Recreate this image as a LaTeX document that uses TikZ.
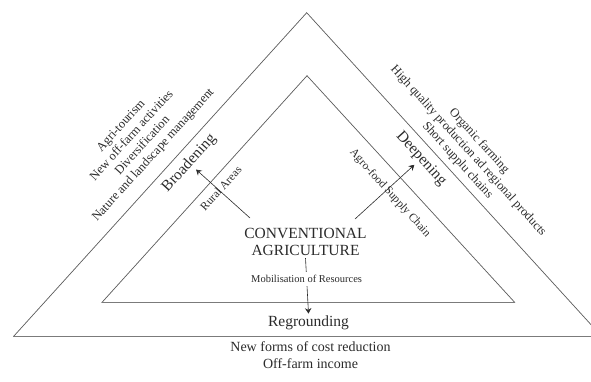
\documentclass[tikz,border=0pt]{standalone}
\usepackage{fontspec}
\setmainfont{Liberation Serif}
\usepackage{tikz}
\usetikzlibrary{arrows.meta}
\definecolor{inkgray}{HTML}{2B2B2B}
\definecolor{linegray}{HTML}{5A5A5A}

\tikzset{
  edgeline/.style={draw=linegray,line width=0.7pt,line join=miter},
  basestroke/.style={draw=linegray!80,line width=1.3pt},
  listtext/.style={text=inkgray,align=center,inner sep=1pt,
    font=\fontsize{12.5}{14.5}\selectfont},
  bigtext/.style={text=inkgray,align=center,inner sep=2pt,
    font=\fontsize{15.5}{17.4}\selectfont},
  smalltext/.style={text=inkgray,inner sep=1pt,
    font=\fontsize{11.5}{13}\selectfont},
  pusharrow/.style={draw=inkgray,line width=0.6pt,
    -{Stealth[length=5.5pt,width=6.5pt,inset=2pt]}}
}

\begin{document}
\begin{tikzpicture}[x=1pt,y=-1pt]
  \clip (0,0) rectangle (591,381);
  % outer and inner triangle
  \coordinate (OA) at (306.7,12.7);
  \coordinate (OL) at (13.3,336.7);
  \coordinate (OR) at (602,336.7);
  \coordinate (IA) at (307,75.7);
  \coordinate (IL) at (101.7,302.7);
  \coordinate (IR) at (515,302.7);
  \draw[edgeline] (OL) -- (OA) -- (OR);
  \draw[basestroke] (OL) -- (OR);
  \draw[edgeline] (IL) -- (IA) -- (IR);
  \draw[basestroke] (IL) -- (IR);

  % centre and the three directions
  \node[bigtext] (conv) at (305.5,242) {CONVENTIONAL\\AGRICULTURE};
  \node[bigtext,rotate=47.8] (broad) at (189.2,163.3) {Broadening};
  \node[bigtext,rotate=-47.8] (deep) at (421,158.8) {Deepening};
  \node[bigtext,anchor=base] (reground) at (308.5,326.5) {Regrounding};

  \node[smalltext,rotate=47.8] (rural) at (220.8,188.3) {Rural Areas};
  \node[smalltext,rotate=-47.8] (agro) at (390,193.3) {Agro-food Supply Chain};

  \coordinate (bfoot) at (250,218);
  \coordinate (dfoot) at (355,219);
  \draw[pusharrow] (bfoot) -- (broad.south);
  \draw[pusharrow] (dfoot) -- (deep.south);
  \draw[pusharrow] (conv.south) -- (reground.north)
    node[pos=0.38,fill=white,inner sep=3pt,text=inkgray,
      font=\fontsize{10.5}{12}\selectfont] (mobil) {Mobilisation of Resources};

  % activities listed outside
  \node[listtext,rotate=47.8] (broadlist) at (137.5,140.8)
    {Agri-tourism\\New off-farm activities\\Diversification\\Nature and landscape management};
  \node[listtext,rotate=-47.8] (deeplist) at (468.3,150.8)
    {Organic farming\\High quality production ad regional products\\Short supplu chains};
  \node[listtext,font=\fontsize{14}{16.5}\selectfont] (extra) at (310.5,355)
    {New forms of cost reduction\\Off-farm income};
\end{tikzpicture}
\end{document}
